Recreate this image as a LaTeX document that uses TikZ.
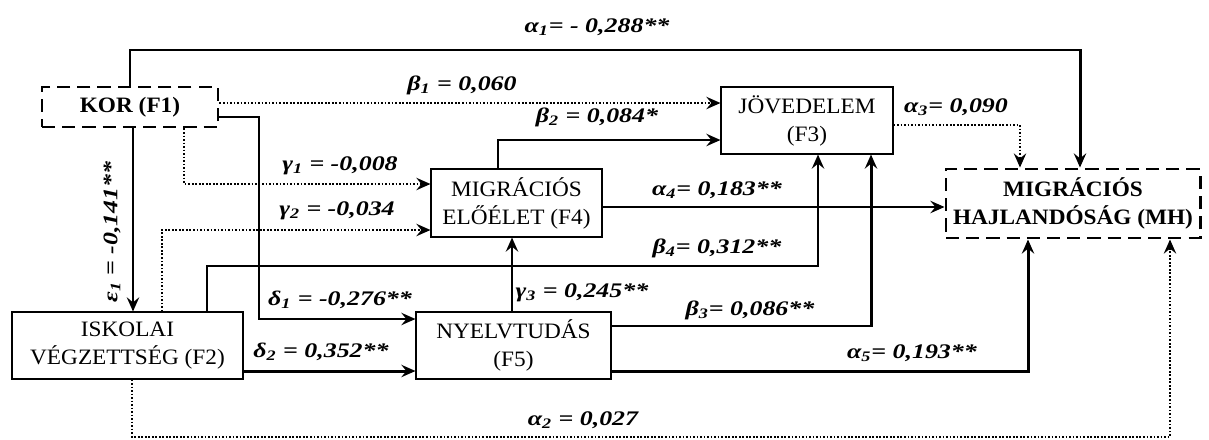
\documentclass[tikz,border=0pt]{standalone}
\usepackage{fontspec}
\setmainfont[FakeStretch=1.06]{Liberation Serif}
\newfontfamily\coeffont[FakeStretch=1.25]{Liberation Serif}
\usetikzlibrary{arrows.meta}
\tikzset{
    box/.style={draw, line width=0.6pt, align=center, inner sep=0pt,
        font=\fontsize{12.5}{16}\selectfont},
    dbox/.style={box, line width=1.7pt, dash pattern=on 7.5pt off 4pt,
        font=\fontsize{12.5}{16}\selectfont\bfseries},
    sol/.style={line width=1.7pt, -{Stealth[length=8pt,width=7pt,inset=2.8pt]}},
    dots/.style={line width=1.2pt, dash pattern=on 1pt off 1pt,
        -{Stealth[length=8pt,width=7pt,inset=2.8pt]}},
    lbl/.style={inner sep=0pt, font=\coeffont\fontsize{11.8}{14}\selectfont\bfseries\itshape}
}
\begin{document}
\begin{tikzpicture}[x=0.2mm, y=-0.2mm]
            \useasboundingbox (0,0) rectangle (1209,439);
            \node[dbox, minimum width=35.2mm, minimum height=8mm] (kor) at (130,107) {KOR (F1)};
            \node[box, minimum width=46.2mm, minimum height=13.4mm] (isk) at (127.5,345.5) {ISKOLAI\\VÉGZETTSÉG (F2)};
            \node[box, minimum width=34.4mm, minimum height=13.4mm] (jov) at (807,120.5) {JÖVEDELEM\\(F3)};
            \node[box, minimum width=34.2mm, minimum height=13.6mm] (mig) at (516.5,203) {MIGRÁCIÓS\\ELŐÉLET (F4)};
            \node[box, minimum width=39mm, minimum height=13.4mm] (nyelv) at (513.5,345.5) {NYELVTUDÁS\\(F5)};
            \node[dbox, minimum width=50.8mm, minimum height=13.8mm] (mh) at (1073,203.5) {MIGRÁCIÓS\\HAJLANDÓSÁG (MH)};
            \draw[sol] (kor.north) |- (1080,50) -- (1080,0 |- mh.north);
            \draw[dots] (kor.east |- 0,103) -- (jov.west |- 0,103);
            \draw[sol] (kor.east |- 0,117) -| (259,319) -- (nyelv.west |- 0,319);
            \draw[dots] (184,0 |- kor.south) |- (mig.west |- 0,184);
            \draw[dots] (162,0 |- isk.north) |- (mig.west |- 0,230);
            \draw[sol] (133,0 |- kor.south) -- (133,0 |- isk.north);
            \draw[sol] (207,0 |- isk.north) |- (818,266) -- (818,0 |- jov.south);
            \draw[sol] (isk.east |- 0,371) -- (nyelv.west |- 0,371);
            \draw[sol] (512,0 |- nyelv.north) -- (512,0 |- mig.south);
            \draw[sol] (nyelv.east |- 0,326) -| (871,0 |- jov.south);
            \draw[sol] (nyelv.east |- 0,371) -| (1028,0 |- mh.south);
            \draw[dots] (132,0 |- isk.south) |- (1170,437) -- (1170,0 |- mh.south);
            \draw[sol] (498,0 |- mig.north) |- (jov.west |- 0,140);
            \draw[sol] (mig.east |- 0,207) -- (mh.west |- 0,207);
            \draw[dots] (jov.east |- 0,125) -| (1020,0 |- mh.north);
            \node[lbl] (la1) at (597,27) {α\textsubscript{1}= - 0,288**};
            \node[lbl] (lb1) at (462,85) {β\textsubscript{1} = 0,060};
            \node[lbl] (lg1) at (340,166) {γ\textsubscript{1} = -0,008};
            \node[lbl] (lg2) at (337,211) {γ\textsubscript{2} = -0,034};
            \node[lbl] (ld1) at (340,300) {δ\textsubscript{1} = -0,276**};
            \node[lbl] (ld2) at (321,352) {δ\textsubscript{2} = 0,352**};
            \node[lbl, rotate=90] (le1) at (112,232) {ε\textsubscript{1} = -0,141**};
            \node[lbl] (lb2) at (597,117) {β\textsubscript{2} = 0,084*};
            \node[lbl] (la4) at (717,190) {α\textsubscript{4}= 0,183**};
            \node[lbl] (la3) at (956,107) {α\textsubscript{3}= 0,090};
            \node[lbl] (lb4) at (717,248) {β\textsubscript{4}= 0,312**};
            \node[lbl] (lg3) at (582,293) {γ\textsubscript{3} = 0,245**};
            \node[lbl] (lb3) at (750,310) {β\textsubscript{3}= 0,086**};
            \node[lbl] (la5) at (912,353) {α\textsubscript{5}= 0,193**};
            \node[lbl] (la2) at (583,420) {α\textsubscript{2} = 0,027};
        \end{tikzpicture}
\end{document}
